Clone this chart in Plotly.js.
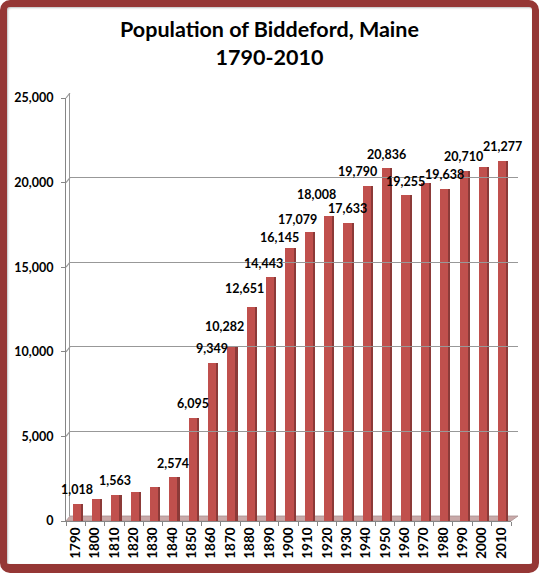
<!DOCTYPE html>
<html>
<head>
<meta charset="utf-8">
<script src="https://cdn.plot.ly/plotly-3.0.1.min.js"></script>
<style>
html,body{margin:0;padding:0;background:#fff;}
#wrap{position:relative;width:539px;height:573px;overflow:hidden;}
#chart{position:absolute;left:0;top:0;width:539px;height:573px;}
#frame{position:absolute;left:0;top:0;width:539px;height:573px;box-sizing:border-box;
  border:7px solid #953735;border-bottom-width:9px;border-radius:10px;pointer-events:none;
  box-shadow:inset 1px 1px 2px rgba(0,0,0,0.25);}
</style>
</head>
<body>
<div id="wrap"><div id="chart"></div><div id="frame"></div></div>
<script>
// ---- data ----
const years = ["1790","1800","1810","1820","1830","1840","1850","1860","1870","1880","1890","1900",
               "1910","1920","1930","1940","1950","1960","1970","1980","1990","2000","2010"];
const population = [1018,1296,1563,1738,1995,2574,6095,9349,10282,12651,14443,16145,
                    17079,18008,17633,19790,20836,19255,19983,19638,20710,20942,21277];
const labelled = [true,false,true,false,false,true,true,true,true,true,true,true,
                  true,true,true,true,true,true,false,true,true,false,true];
const yTicks = [0,5000,10000,15000,20000,25000];

// ---- label nudges (style only, pixels) ----
const labelNudge = {"1870":[-6,21],"1880":[-5,18],"1890":[-6,13],"1900":[-9,10],
                    "1910":[-10,13],"1920":[-11,22],"1940":[-8,15]};

// ---- geometry (pixels) ----
const W=539,H=573, mL=66, mR=21, mT=93, mB=52;
const plotW=W-mL-mR, plotH=H-mT-mB;
const frontW=445, frontH=423, depthX=4, depthY=5;
const yMax=25000;

const font="Lato, 'Open Sans', sans-serif";
const frontColor="#C0504D", sideColor="#8C3A38";

const front={type:"bar",x:years,y:population,width:0.42,offset:-0.16,
  marker:{color:frontColor},xaxis:"x",yaxis:"y",hoverinfo:"x+y",showlegend:false};
const side={type:"bar",x:years,y:population,width:0.11,offset:0.26,
  marker:{color:sideColor},xaxis:"x",yaxis:"y",hoverinfo:"skip",showlegend:false};

const annotations=[];
years.forEach((yr,i)=>{
  if(!labelled[i]) return;
  const n=labelNudge[yr]||[1,14];
  annotations.push({x:i,y:population[i],xref:"x",yref:"y",
    text:population[i].toLocaleString("en-US"),showarrow:false,
    xshift:n[0],yshift:n[1],yanchor:"middle",
    font:{family:font,size:12.5,color:"#000",weight:"bold"}});
});

// front-to-back diagonal tick connectors and floor
const px2fx = p => (p-mL)/plotW;
const py2fy = p => (H-mB-p)/plotH;
const shapes=[];
const backDy = depthY*yMax/frontH;
yTicks.forEach(t=>{
  shapes.push({type:"line",xref:"paper",yref:"y2",
    x0:0,x1:depthX/plotW,y0:t-backDy,y1:t,line:{color:"#989898",width:1.2},layer:"below"});
});
const f0=px2fx(mL), f1=px2fx(mL+frontW), b0=px2fx(mL+depthX), b1=px2fx(mL+frontW+7);
const yf=py2fy(H-mB), yb=py2fy(H-mB-depthY);
shapes.push({type:"path",xref:"paper",yref:"paper",
  path:`M ${f0} ${yf} L ${f1} ${yf} L ${b1} ${yb} L ${b0} ${yb} Z`,
  fillcolor:"#C9A9A8",line:{color:"#a89090",width:0.8},layer:"below"});

const layout={
  width:W,height:H,margin:{l:mL,r:mR,t:mT,b:mB},
  paper_bgcolor:"rgba(0,0,0,0)",plot_bgcolor:"rgba(0,0,0,0)",
  title:{text:"Population of Biddeford, Maine<br>1790-2010",
    font:{family:font,size:21.5,color:"#000",weight:"bold"},
    x:0.5,xanchor:"center",y:1-37/H,yanchor:"middle",yref:"container"},
  bargap:0,barmode:"overlay",
  xaxis:{domain:[0,frontW/plotW],type:"category",range:[-0.5,years.length-0.5],tickangle:-90,
    showline:true,linecolor:"#868686",linewidth:1,ticks:"outside",ticklen:4,
    tickcolor:"#868686",tickson:"boundaries",showgrid:false,
    tickfont:{family:font,size:13.5,color:"#000",weight:"bold"},fixedrange:true},
  yaxis:{domain:[0,frontH/plotH],range:[0,yMax],tickvals:yTicks,tickformat:",",
    showline:true,linecolor:"#868686",linewidth:1,ticks:"outside",ticklen:4,
    tickcolor:"#868686",showgrid:false,zeroline:false,ticklabelstandoff:5,
    tickfont:{family:font,size:12.5,color:"#000",weight:"bold"},fixedrange:true},
  xaxis2:{domain:[depthX/plotW,1],anchor:"y2",range:[0,1],
    showgrid:false,showticklabels:false,zeroline:false,showline:false,ticks:""},
  yaxis2:{domain:[depthY/plotH,(frontH+depthY)/plotH],range:[0,yMax],anchor:"x2",
    tickvals:yTicks,showgrid:true,gridcolor:"#989898",gridwidth:1.2,
    showticklabels:false,zeroline:false,showline:true,linecolor:"#989898",ticks:""},
  shapes:shapes,annotations:annotations
};
const backWall={type:"scatter",x:[],y:[],xaxis:"x2",yaxis:"y2",showlegend:false,hoverinfo:"skip"};

Plotly.newPlot("chart",[backWall,side,front],layout,{displayModeBar:false,staticPlot:true});
</script>
</body>
</html>
